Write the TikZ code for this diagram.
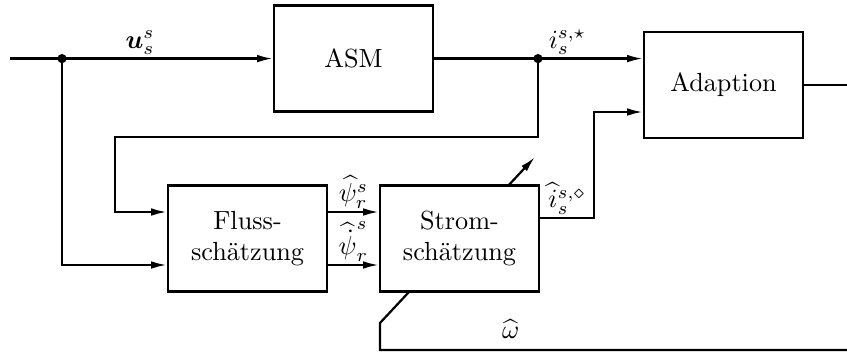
\documentclass[tikz,border=0pt]{standalone}
\usepackage{fontspec}
\usepackage{amsmath}
\usepackage{amssymb}
\usetikzlibrary{arrows.meta, positioning, calc}

\begin{document}
\begin{tikzpicture}[
    every node/.style={font=\normalsize},
    blk/.style={draw, line width=0.85pt, fill=white, minimum width=2.13cm, minimum height=1.42cm, align=center},
    a/.style={-{Latex[length=6pt,width=2.9pt]}, line width=0.85pt},
    ln/.style={line width=0.85pt},
    lbl/.style={inner sep=1pt},
    dot/.style={circle, fill, inner sep=0pt, minimum size=3.5pt}
]
\useasboundingbox (0,0) rectangle (11.35,-4.73);
\coordinate (in)   at (0.134,-0.785);
\coordinate (j1)   at (0.831,-0.785);
\coordinate (j2)   at (7.209,-0.785);
\coordinate (fb)   at (1.541,-1.836);
\coordinate (out)  at (11.35,-1.139);
\coordinate (wr)   at (11.35,-4.69);
\coordinate (wl)   at (5.092,-4.69);
\coordinate (wk)   at (5.092,-4.328);
\coordinate (wtip) at (7.169,-2.104);
% omega feedback runs behind the current estimator
\draw[a] (wr) -- node[lbl,above=3pt,pos=0.72]{$\widehat{\omega}$} (wl) -- (wk) -- (wtip);

\node[blk] (asm)   at (4.737,-0.785) {ASM};
\node[blk] (adapt) at (9.695,-1.139) {Adaption};
\node[blk] (fluss) at (3.317,-3.196) {Fluss-\\schätzung};
\node[blk] (strom) at (6.157,-3.196) {Strom-\\schätzung};

\draw[ln] (in) -- (j1);
\draw[a] (j1) -- node[lbl,above,pos=0.37]{$\boldsymbol{u}_s^s$} (asm);
\draw[ln] (asm) -- (j2);
\draw[a] (j2) -- node[lbl,above,pos=0.28]{$i_s^{s,\star}$} (j2 -| adapt.west);
\draw[a] (j2) |- (fb) |- ($(fluss.west)+(0,0.355)$);
\draw[a] (j1) |- ($(fluss.west)+(0,-0.355)$);
\draw[a] ($(fluss.east)+(0,0.355)$) -- node[lbl,above]{$\widehat{\psi}_r^s$} ($(strom.west)+(0,0.355)$);
\draw[a] ($(fluss.east)+(0,-0.355)$) -- node[lbl,above]{$\widehat{\dot{\psi}}_r^s$} ($(strom.west)+(0,-0.355)$);
\draw[a] ($(strom.east)+(0,0.275)$) -- node[lbl,above]{$\widehat{i}_s^{s,\diamond}$} ++(0.724,0) |- ($(adapt.west)+(0,-0.362)$);
\draw[ln] (adapt.east) -- (out);
\node[dot] (d1) at (j1) {};
\node[dot] (d2) at (j2) {};
\end{tikzpicture}
\end{document}
